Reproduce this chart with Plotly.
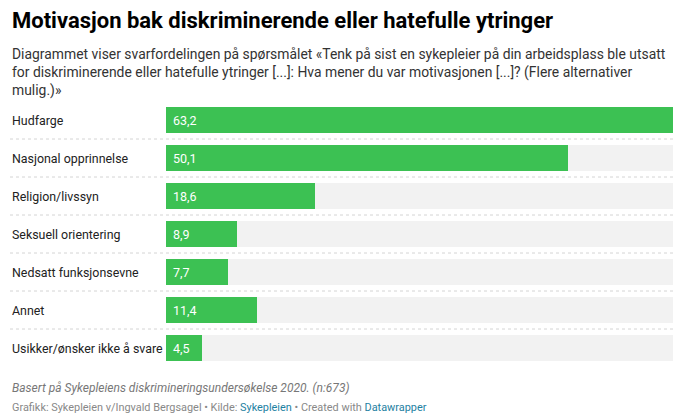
import plotly.graph_objects as go

# Data
categories = [
    "Hudfarge",
    "Nasjonal opprinnelse",
    "Religion/livssyn",
    "Seksuell orientering",
    "Nedsatt funksjonsevne",
    "Annet",
    "Usikker/ønsker ikke å svare",
]
values = [63.2, 50.1, 18.6, 8.9, 7.7, 11.4, 4.5]

title = "Motivasjon bak diskriminerende eller hatefulle ytringer"
subtitle = ("Diagrammet viser svarfordelingen på spørsmålet «Tenk på sist en sykepleier på din arbeidsplass ble utsatt<br>"
            "for diskriminerende eller hatefulle ytringer [...]: Hva mener du var motivasjonen [...]? (Flere alternativer<br>"
            "mulig.)»")
note = "Basert på Sykepleiens diskrimineringsundersøkelse 2020. (n:673)"

W, H = 680, 418
GREEN = "#3cc153"
TRACK = "#f2f2f2"
FONT = "Roboto"


def px_x(p):
    return p / W


def px_y(p):
    return 1 - p / H


x_max = max(values)

fig = go.Figure()

# gray background track behind each bar
fig.add_trace(go.Bar(
    y=categories, x=[x_max] * len(categories), orientation="h",
    marker=dict(color=TRACK, line=dict(width=0)),
    width=0.684, hoverinfo="skip", showlegend=False,
))
fig.add_trace(go.Bar(
    y=categories, x=values, orientation="h",
    marker=dict(color=GREEN, line=dict(width=0)),
    width=0.684, showlegend=False,
))

annotations = []
# row labels and value labels
for cat, val in zip(categories, values):
    annotations.append(dict(
        x=px_x(10), xref="paper", y=cat, yref="y", text=cat,
        xanchor="left", yanchor="middle", showarrow=False,
        font=dict(family=FONT, size=12.4, color="#222222"),
    ))
    annotations.append(dict(
        x=0, xref="x", y=cat, yref="y", text=f"{val:.1f}".replace(".", ","),
        xanchor="left", yanchor="middle", xshift=5, showarrow=False,
        font=dict(family=FONT, size=12.5, color="#ffffff"),
    ))

# title, subtitle, footer
annotations += [
    dict(x=px_x(10), y=px_y(21), xref="paper", yref="paper", text=f"<b>{title}</b>",
         xanchor="left", yanchor="middle", showarrow=False,
         font=dict(family=FONT, size=22, color="#000000")),
    dict(x=px_x(10), y=px_y(44), xref="paper", yref="paper", text=subtitle,
         xanchor="left", yanchor="top", align="left", showarrow=False,
         font=dict(family=FONT, size=13.9, color="#333333")),
    dict(x=px_x(10), y=px_y(388), xref="paper", yref="paper", text=f"<i>{note}</i>",
         xanchor="left", yanchor="middle", showarrow=False,
         font=dict(family=FONT, size=12, color="#777777")),
    dict(x=px_x(10), y=px_y(407), xref="paper", yref="paper",
         text=("Grafikk: Sykepleien v/Ingvald Bergsagel • Kilde: <span style='color:#1d81a2'>Sykepleien</span>"
               " • Created with <span style='color:#1d81a2'>Datawrapper</span>"),
         xanchor="left", yanchor="middle", showarrow=False,
         font=dict(family=FONT, size=10.9, color="#888888")),
]

# dotted separators between rows
shapes = []
for i in range(len(categories) - 1):
    shapes.append(dict(
        type="line", xref="paper", yref="y", x0=px_x(10), x1=px_x(673),
        y0=i + 0.5, y1=i + 0.5, line=dict(color="#d4d4d4", width=1, dash="dot"),
    ))

fig.update_layout(
    width=W, height=H,
    margin=dict(l=0, r=0, t=0, b=0),
    paper_bgcolor="white", plot_bgcolor="white",
    barmode="overlay", bargap=0,
    font=dict(family=FONT),
    xaxis=dict(domain=[px_x(166), px_x(673)], range=[0, x_max], visible=False, fixedrange=True),
    yaxis=dict(domain=[px_y(367), px_y(101)], autorange="reversed", visible=False, fixedrange=True),
    annotations=annotations,
    shapes=shapes,
)

# drop the default page margin so the figure sits at the window's top-left
fig.write_html("out.html", config={"displayModeBar": False},
               post_script="document.body.style.margin='0';document.body.style.overflow='hidden';")
